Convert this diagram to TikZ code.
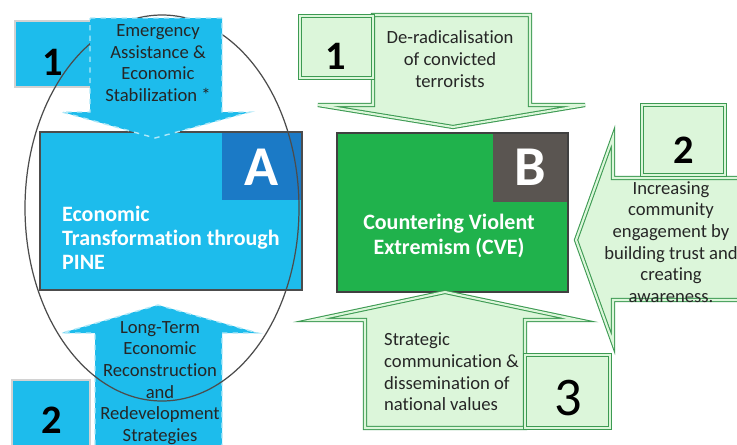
\documentclass[tikz,border=0pt]{standalone}
\usepackage{fontspec}
\setmainfont{Carlito}[Ligatures=NoCommon]
\definecolor{pinecyan}{HTML}{1DBCEC}
\definecolor{pineblue}{HTML}{1B7AC6}
\definecolor{cvegreen}{HTML}{20B24C}
\definecolor{cvegrey}{HTML}{5A5551}
\definecolor{palegreen}{HTML}{DCF6DA}
\definecolor{edgegreen}{HTML}{3C9A52}
\begin{document}
\begin{tikzpicture}[x=0.02cm,y=-0.02cm]
\tikzstyle{cyanbox}=[fill=pinecyan,draw=gray!35,line width=0.6pt]
\tikzstyle{cyanarrow}=[fill=pinecyan,draw=white!65!pinecyan,dashed,line width=0.8pt]
\tikzstyle{greenbox}=[fill=palegreen,draw=edgegreen,double=palegreen,double distance=1.2pt,line width=0.6pt]
\tikzstyle{num}=[font=\fontsize{23}{23}\selectfont\bfseries]
\tikzstyle{letter}=[font=\fontsize{32}{32}\selectfont\bfseries,text=white]
\tikzstyle{arrowtext}=[font=\fontsize{10.6}{12.3}\selectfont,align=center,text=black!85]
\tikzstyle{blocktext}=[font=\fontsize{12.5}{13.8}\selectfont\bfseries,text=white]
\useasboundingbox[fill=white] (0,0) rectangle (737,444);

% Bloc A
\draw[fill=pinecyan,draw=black!70,line width=0.6pt] (40,132) rectangle (302,290);
\fill[pineblue] (222,133) rectangle (301,200);
\node[letter] (A) at (262,167) {A};
\node[blocktext,anchor=west,align=left] (PINE) at (56,238)
  {Economic\\Transformation through\\PINE};

% Etape 1 (A)
\draw[cyanbox] (15,21) rectangle (92,87);
\node[num] (A1) at (53,62) {1};

% Etape 2 (A)
\draw[cyanarrow] (95,445) -- (95,333) -- (62,333) -- (158,305) -- (258,333)
  -- (222,333) -- (222,445);
\node[arrowtext] (longterm) at (160,383)
  {Long-Term\\Economic\\Reconstruction\\and\\Redevelopment\\Strategies};
\draw[cyanbox] (12,380) rectangle (90,446);
\node[num] (A2) at (52,420) {2};

% Ellipse
\draw[black!70,line width=0.7pt] (162,208) ellipse [x radius=137, y radius=193];

\draw[cyanarrow] (90,18) -- (222,18) -- (222,112) -- (250,112) -- (155,138)
  -- (62,112) -- (90,112) -- cycle;
\node[arrowtext] (emergency) at (158,63)
  {Emergency\\Assistance \&\\Economic\\Stabilization *};

% Bloc B
\draw[fill=cvegreen,draw=black!75,line width=0.6pt] (337,133) rectangle (568,292);
\fill[cvegrey] (493,134) rectangle (567,202);
\node[letter] (B) at (530,167) {B};
\node[blocktext,align=center] (CVE) at (449,236)
  {Countering Violent\\Extremism (CVE)};

% Etape 1 (B)
\draw[greenbox] (373,15) -- (530,15) -- (530,105) -- (585,105) -- (453,127)
  -- (318,105) -- (373,105) -- cycle;
\node[arrowtext] (derad) at (450,59)
  {De-radicalisation\\of convicted\\terrorists};
\draw[greenbox] (300,16) rectangle (373,78);
\node[num] (B1) at (336,56) {1};

% Etape 2 (B)
\draw[greenbox] (740,178) -- (613,178) -- (613,137) -- (576,240) -- (613,343)
  -- (613,300) -- (740,300);
\node[arrowtext] (community) at (671,242)
  {Increasing\\community\\engagement by\\building trust and\\creating\\awareness.};
\draw[greenbox] (642,105) rectangle (725,175);
\node[num] (B2) at (684,150) {2};

% Etape 3 (B)
\draw[greenbox] (365,428) -- (365,320) -- (313,320) -- (445,292) -- (578,320)
  -- (525,320) -- (525,428) -- cycle;
\node[arrowtext,align=left,anchor=west] (strategic) at (378,372)
  {Strategic\\communication \&\\dissemination of\\national values};
\draw[greenbox] (525,355) rectangle (610,428);
\node[font=\fontsize{31}{31}\selectfont] (B3) at (568,398) {3};

\end{tikzpicture}
\end{document}
